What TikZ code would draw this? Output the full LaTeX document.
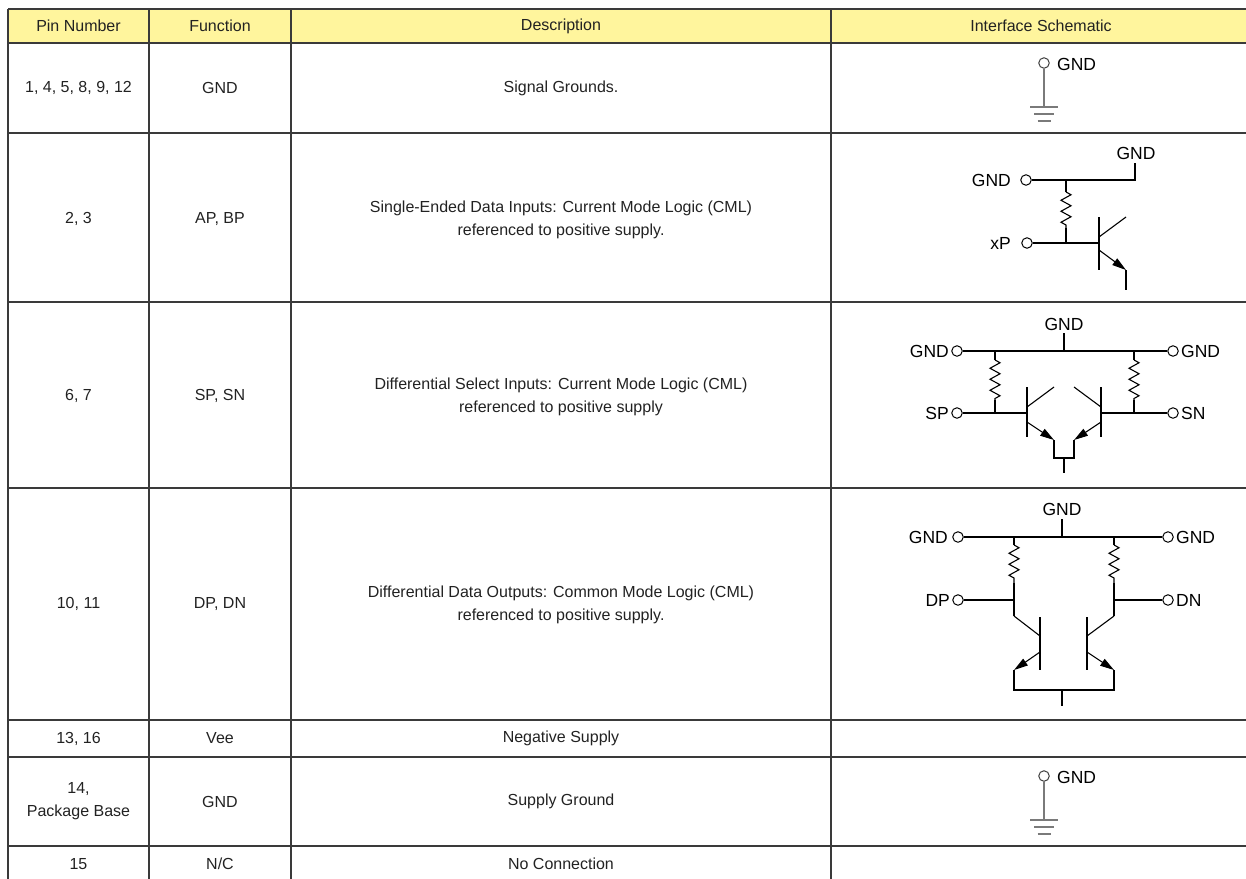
\documentclass[tikz,border=0pt]{standalone}
\usepackage{fontspec}
\setmainfont{Liberation Sans}
\usetikzlibrary{arrows.meta,decorations.pathmorphing}
\definecolor{headyellow}{HTML}{FFF59D}
\definecolor{rulegray}{HTML}{3A3A3A}
\definecolor{earthgray}{HTML}{7A7A7A}
\definecolor{inkgray}{HTML}{222222}
\tikzset{
  pics/earth/.style={code={
    \draw[earth] (-14,0) -- (14,0) (-10,7) -- (10,7) (-6.5,14) -- (6.5,14);}}
}
\begin{document}
\begin{tikzpicture}[x=1pt, y=-1pt,
    rule/.style={draw=rulegray, line width=1.6pt},
    cell/.style={font=\fontsize{16}{23}\selectfont, text=inkgray, align=center, inner sep=0pt},
    wire/.style={line width=1.1pt},
    pin/.style={circle, draw, fill=white, line width=1pt, inner sep=0pt, minimum size=10.5pt},
    tag/.style={font=\fontsize{17.5}{20}\selectfont, inner sep=0pt},
    res/.style={decorate, decoration={zigzag, segment length=11pt, amplitude=5pt}},
    emit/.style={-{Triangle[length=14pt, width=8pt]}},
    earth/.style={draw=earthgray, line width=1.6pt}]
  \useasboundingbox (0,0) rectangle (1246,878);
  \clip (0,0) rectangle (1246,878);
  % table frame
  \fill[headyellow] (8,9) rectangle (1252,43);
  \foreach \x in {8,149,291,831}
    \draw[rule] (\x,9) -- (\x,882);
  \foreach \y in {9,43,133,302,488,720,757,846,882}
    \draw[rule] (8,\y) -- (1252,\y);
  % header
  \node[cell] (pinH) at (78.5,26) {Pin Number};
  \node[cell] (funH) at (220,26) {Function};
  \node[cell] (descH) at (561,26) {Description};
  \node[cell] (schH) at (1041,26) {Interface Schematic};
  % columns of text
  \node[cell] (pin1) at (78.5,88) {1, 4, 5, 8, 9, 12};
  \node[cell] (fun1) at (220,88) {GND};
  \node[cell] (desc1) at (561,88) {Signal Grounds.};
  \node[cell] (pin2) at (78.5,219) {2, 3};
  \node[cell] (fun2) at (220,219) {AP, BP};
  \node[cell] (desc2) at (561,220) {Single-Ended Data Inputs: Current Mode Logic (CML)\\referenced to positive supply.};
  \node[cell] (pin3) at (78.5,396) {6, 7};
  \node[cell] (fun3) at (220,396) {SP, SN};
  \node[cell] (desc3) at (561,397) {Differential Select Inputs: Current Mode Logic (CML)\\referenced to positive supply};
  \node[cell] (pin4) at (78.5,604) {10, 11};
  \node[cell] (fun4) at (220,604) {DP, DN};
  \node[cell] (desc4) at (561,605) {Differential Data Outputs: Common Mode Logic (CML)\\referenced to positive supply.};
  \node[cell] (pin5) at (78.5,738.5) {13, 16};
  \node[cell] (fun5) at (220,738.5) {Vee};
  \node[cell] (desc5) at (561,738.5) {Negative Supply};
  \node[cell] (pin6) at (78.5,801.5) {14,\\Package Base};
  \node[cell] (fun6) at (220,801.5) {GND};
  \node[cell] (desc6) at (561,801.5) {Supply Ground};
  \node[cell] (pin7) at (78.5,864) {15};
  \node[cell] (fun7) at (220,864) {N/C};
  \node[cell] (desc7) at (561,864) {No Connection};

  % signal ground
  \node[pin, draw=black!75] (e1) at (1044,63) {};
  \node[tag, anchor=west] (e1t) at (1057,64) {GND};
  \draw[earth] (e1) -- (1044,107) coordinate (e1b);
  \pic at (e1b) {earth};

  % single-ended input
  \node[tag] (s2top) at (1136,153) {GND};
  \node[pin] (s2g) at (1026,180) {};
  \node[tag, anchor=east] (s2gt) at (1011,180) {GND};
  \node[pin] (s2x) at (1027,243) {};
  \node[tag, anchor=east] (s2xt) at (1011,243) {xP};
  \draw[wire] (s2g) -- (1135,180) -- (1135,163);
  \draw[wire] (1066,180) -- (1066,192);
  \draw[wire, res] (1066,192) -- (1066,228);
  \draw[wire] (1066,228) -- (1066,243);
  \draw[wire] (s2x) -- (1099,243);
  \draw[wire] (1099,217) -- (1099,270);
  \draw[wire] (1099,237) -- (1126,217);
  \draw[wire, emit] (1099,250) -- (1126,270);
  \draw[wire] (1126,270) -- (1126,290);

  % differential select inputs
  \node[tag] (s3top) at (1064,324) {GND};
  \node[pin] (s3gl) at (957,351) {};
  \node[pin] (s3gr) at (1173,351) {};
  \node[tag, anchor=east] (s3glt) at (949,351) {GND};
  \node[tag, anchor=west] (s3grt) at (1181,351) {GND};
  \node[pin] (s3sp) at (957,413) {};
  \node[pin] (s3sn) at (1173,413) {};
  \node[tag, anchor=east] (s3spt) at (949,413) {SP};
  \node[tag, anchor=west] (s3snt) at (1181,413) {SN};
  \draw[wire] (s3gl) -- (s3gr);
  \draw[wire] (1064,351) -- (1064,333);
  \foreach \x in {995,1134} {
    \draw[wire] (\x,351) -- (\x,360);
    \draw[wire, res] (\x,360) -- (\x,400);
    \draw[wire] (\x,400) -- (\x,413);
  }
  \draw[wire] (s3sp) -- (1027,413);
  \draw[wire] (s3sn) -- (1101,413);
  \draw[wire] (1027,387) -- (1027,437);
  \draw[wire] (1101,387) -- (1101,437);
  \draw[wire] (1027,407) -- (1054,387);
  \draw[wire] (1101,407) -- (1074,387);
  \draw[wire, emit] (1027,422) -- (1054,440);
  \draw[wire, emit] (1101,422) -- (1074,440);
  \draw[wire] (1054,440) -- (1054,458) -- (1074,458) -- (1074,440);
  \draw[wire] (1064,458) -- (1064,473);

  % differential data outputs
  \node[tag] (s4top) at (1062,509) {GND};
  \node[pin] (s4gl) at (958,537) {};
  \node[pin] (s4gr) at (1168,537) {};
  \node[tag, anchor=east] (s4glt) at (948,537) {GND};
  \node[tag, anchor=west] (s4grt) at (1176,537) {GND};
  \node[pin] (s4dp) at (958,600) {};
  \node[pin] (s4dn) at (1168,600) {};
  \node[tag, anchor=east] (s4dpt) at (950,600) {DP};
  \node[tag, anchor=west] (s4dnt) at (1176,600) {DN};
  \draw[wire] (s4gl) -- (s4gr);
  \draw[wire] (1062,537) -- (1062,519);
  \foreach \x in {1014,1114} {
    \draw[wire] (\x,537) -- (\x,545);
    \draw[wire, res] (\x,545) -- (\x,583);
    \draw[wire] (\x,583) -- (\x,616);
  }
  \draw[wire] (s4dp) -- (1014,600);
  \draw[wire] (s4dn) -- (1114,600);
  \draw[wire] (1014,616) -- (1040,636);
  \draw[wire] (1114,616) -- (1087,636);
  \draw[wire] (1040,617) -- (1040,670);
  \draw[wire] (1087,617) -- (1087,670);
  \draw[wire, emit] (1040,652) -- (1014,670);
  \draw[wire, emit] (1087,652) -- (1114,670);
  \draw[wire] (1014,670) -- (1014,690) -- (1114,690) -- (1114,670);
  \draw[wire] (1062,690) -- (1062,706);

  % supply ground
  \node[pin, draw=black!75] (e6) at (1044,776) {};
  \node[tag, anchor=west] (e6t) at (1057,777) {GND};
  \draw[earth] (e6) -- (1044,820) coordinate (e6b);
  \pic at (e6b) {earth};
\end{tikzpicture}
\end{document}
